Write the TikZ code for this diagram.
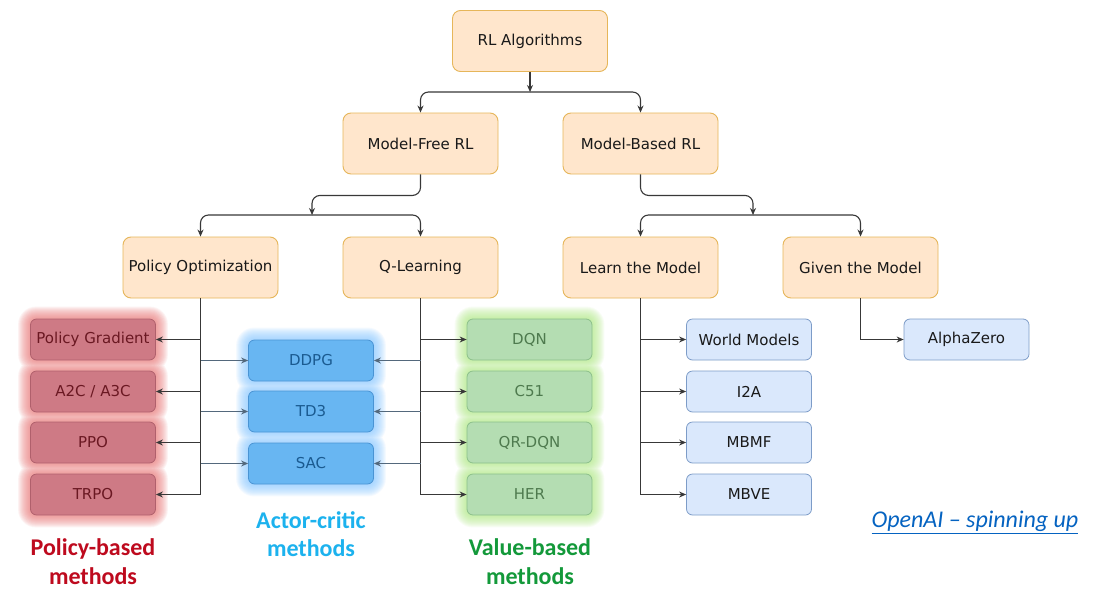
\documentclass[tikz,border=0pt]{standalone}
\usepackage{fontspec}
\setmainfont{DejaVu Sans}
\newfontfamily\calfont{Carlito}
\usetikzlibrary{arrows.meta,calc}

\definecolor{orfill}{HTML}{FFE6CC}
\definecolor{ordraw}{HTML}{E6B65A}
\definecolor{blfill}{HTML}{DAE8FC}
\definecolor{bldraw}{HTML}{7D9CC8}
\definecolor{pofill}{HTML}{CE7A85}
\definecolor{podraw}{HTML}{B0606C}
\definecolor{potext}{HTML}{6A1822}
\definecolor{pogl}{HTML}{EC7C7C}
\definecolor{acfill}{HTML}{68B6F2}
\definecolor{acdraw}{HTML}{4A94D4}
\definecolor{actext}{HTML}{1A5A90}
\definecolor{acgl}{HTML}{8CCBFF}
\definecolor{vafill}{HTML}{B4DDB2}
\definecolor{vadraw}{HTML}{8CC08A}
\definecolor{vatext}{HTML}{4E7A4E}
\definecolor{vagl}{HTML}{B4EC8A}
\definecolor{linecol}{HTML}{383838}
\definecolor{acline}{HTML}{53687C}
\definecolor{polabel}{HTML}{BE0A1E}
\definecolor{aclabel}{HTML}{1CB2EE}
\definecolor{valabel}{HTML}{13993A}
\definecolor{linkcol}{HTML}{0563C1}

\pgfdeclarelayer{paper}
\pgfdeclarelayer{glow}
\pgfsetlayers{paper,glow,main}

\tikzset{
  catbox/.style={draw=ordraw, fill=orfill, line width=0.9pt, rounded corners=8pt,
    minimum width=155pt, minimum height=61pt, inner sep=0pt,
    font=\fontsize{15}{18}\selectfont, text=black!90},
  algbox/.style={rounded corners=6pt, line width=0.8pt, minimum width=125pt,
    minimum height=41pt, inner sep=0pt, font=\fontsize{15}{18}\selectfont},
  mbbox/.style={algbox, draw=bldraw, fill=blfill, text=black!90},
  pobox/.style={algbox, draw=podraw, fill=pofill, text=potext},
  acbox/.style={algbox, draw=acdraw, fill=acfill, text=actext},
  vabox/.style={algbox, draw=vadraw, fill=vafill, text=vatext},
  link/.style={draw=linecol, line width=1.1pt},
  arr/.style={link, -{Stealth[length=7pt,width=6pt]}},
  curved/.style={arr, rounded corners=8pt},
  grouplabel/.style={align=center, inner sep=0pt,
    font=\calfont\bfseries\fontsize{24}{28.5}\selectfont}
}

\begin{document}
\begin{tikzpicture}[x=1pt, y=-1pt]
\begin{pgfonlayer}{paper}
\fill[white] (0,0) rectangle (1102,589);
\end{pgfonlayer}
\useasboundingbox (0,0) rectangle (1102,589);

% top levels of the taxonomy
\node[catbox] (rl) at (530,41)    {RL Algorithms};
\node[catbox] (mf) at (420.5,143.5) {Model-Free RL};
\node[catbox] (mb) at (640.5,143.5) {Model-Based RL};
\node[catbox] (po) at (200.5,267.5) {Policy Optimization};
\node[catbox] (ql) at (420.5,267.5) {Q-Learning};
\node[catbox] (lm) at (640.5,267.5) {Learn the Model};
\node[catbox] (gm) at (860.5,267.5) {Given the Model};

% policy-based algorithms
\node[pobox] (pg)   at (93,339.5) {Policy Gradient};
\node[pobox] (a2c)  at (93,391.5) {A2C / A3C};
\node[pobox] (ppo)  at (93,442.5) {PPO};
\node[pobox] (trpo) at (93,494.5) {TRPO};

% actor-critic algorithms
\node[acbox] (ddpg) at (311,360.5) {DDPG};
\node[acbox] (td3)  at (311,411.5) {TD3};
\node[acbox] (sac)  at (311,463.5) {SAC};

% value-based algorithms
\node[vabox] (dqn)   at (529.5,339.5) {DQN};
\node[vabox] (c51)   at (529.5,391.5) {C51};
\node[vabox] (qrdqn) at (529.5,442.5) {QR-DQN};
\node[vabox] (her)   at (529.5,494.5) {HER};

% model-based algorithms
\node[mbbox] (wm)   at (749,339.5) {World Models};
\node[mbbox] (i2a)  at (749,391.5) {I2A};
\node[mbbox] (mbmf) at (749,442.5) {MBMF};
\node[mbbox] (mbve) at (749,494.5) {MBVE};
\node[mbbox] (az)   at (966.5,339.5) {AlphaZero};

% soft halos behind the three families
\begin{pgfonlayer}{glow}
\foreach \r in {1,2,...,12} {
  \pgfmathsetmacro\rr{6+\r}
  \fill[pogl, fill opacity=0.09, rounded corners=\rr pt]
    \foreach \n in {pg,a2c,ppo,trpo} {
      ($(\n.south west)+(-\r pt,-\r pt)$) rectangle ($(\n.north east)+(\r pt,\r pt)$)
    };
  \fill[acgl, fill opacity=0.09, rounded corners=\rr pt]
    \foreach \n in {ddpg,td3,sac} {
      ($(\n.south west)+(-\r pt,-\r pt)$) rectangle ($(\n.north east)+(\r pt,\r pt)$)
    };
  \fill[vagl, fill opacity=0.09, rounded corners=\rr pt]
    \foreach \n in {dqn,c51,qrdqn,her} {
      ($(\n.south west)+(-\r pt,-\r pt)$) rectangle ($(\n.north east)+(\r pt,\r pt)$)
    };
}
\end{pgfonlayer}

% branching points
\coordinate (j0)  at (530,92);
\coordinate (jmf) at (312,215);
\coordinate (jmb) at (753,215);

\draw[arr] (rl.south) -- (j0);
\draw[curved] (j0) -| (mf.north);
\draw[curved] (j0) -| (mb.north);

\draw[curved] (mf.south) -- ++(0,21) -| (jmf);
\draw[curved] (jmf) -| (po.north);
\draw[curved] (jmf) -| (ql.north);

\draw[curved] (mb.south) -- ++(0,21) -| (jmb);
\draw[curved] (jmb) -| (lm.north);
\draw[curved] (jmb) -| (gm.north);

% policy optimization trunk
\draw[link] (po.south) -- (po.south |- trpo.east);
\foreach \n in {pg,a2c,ppo,trpo}
  \draw[arr] (po.south |- \n.east) -- (\n.east);
\foreach \n in {ddpg,td3,sac}
  \draw[arr, draw=acline] (po.south |- \n.west) -- (\n.west);

% q-learning trunk
\draw[link] (ql.south) -- (ql.south |- her.west);
\foreach \n in {dqn,c51,qrdqn,her}
  \draw[arr] (ql.south |- \n.west) -- (\n.west);
\foreach \n in {ddpg,td3,sac}
  \draw[arr, draw=acline] (ql.south |- \n.east) -- (\n.east);

% learn-the-model trunk
\draw[link] (lm.south) -- (lm.south |- mbve.west);
\foreach \n in {wm,i2a,mbmf,mbve}
  \draw[arr] (lm.south |- \n.west) -- (\n.west);

% given-the-model branch
\draw[arr] (gm.south) |- (az.west);

% family captions
\node[grouplabel, text=polabel] (pol) at (93,561.5)  {Policy-based\\methods};
\node[grouplabel, text=aclabel] (acl) at (311,534)   {Actor-critic\\methods};
\node[grouplabel, text=valabel] (val) at (530,561.5) {Value-based\\methods};

\node[text=linkcol, inner sep=0pt, font=\calfont\itshape\fontsize{24}{28}\selectfont] (src) at (975,522)
  {\underline{OpenAI – spinning up}};
\end{tikzpicture}
\end{document}
